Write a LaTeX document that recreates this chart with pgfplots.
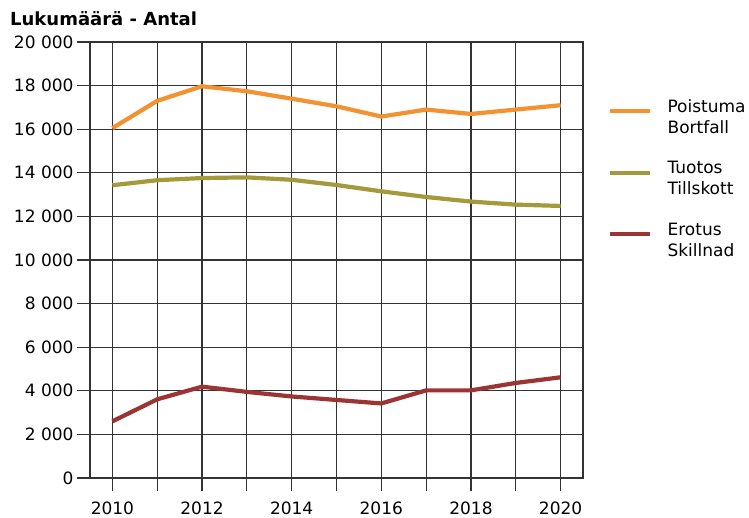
\documentclass[border=0pt]{standalone}
\usepackage{pgfplots}
\pgfplotsset{compat=1.18}
\usepackage{fontspec}
\setmainfont{DejaVu Sans}
\definecolor{cOr}{HTML}{F39230}
\definecolor{cOl}{HTML}{A49A3C}
\definecolor{cRe}{HTML}{9D3434}
\begin{document}
\begin{tikzpicture}[x=1pt,y=1pt]
\useasboundingbox (0,0) rectangle (749,517);
\node[anchor=base west, inner sep=0pt, font=\fontsize{18}{22}\selectfont\bfseries] at (10,491.3) {Lukumäärä - Antal};
\begin{axis}[
  at={(90pt,39pt)}, anchor=south west,
  scale only axis, width=493pt, height=436pt,
  xmin=2009.5, xmax=2020.5, ymin=0, ymax=20000,
  xtick={2010,2012,...,2020}, minor xtick={2011,2013,...,2019},
  ytick={0,2000,...,20000},
  grid=both,
  major grid style={black!80, line width=1.1pt},
  minor grid style={black!80, line width=1.1pt},
  axis line style={black!80, line width=1.1pt},
  tick style={black!80, line width=1.1pt},
  tick align=outside, xtick pos=bottom, ytick pos=left,
  major tick length=13pt, minor tick length=13pt,
  tick label style={font=\fontsize{17}{20}\selectfont},
  /pgf/number format/assume math mode=true,
  /pgf/number format/1000 sep={\ },
  xticklabel style={/pgf/number format/1000 sep={}, yshift=-7pt},
  scaled y ticks=false,
  legend style={at={(1.045,0.8735)}, anchor=north west, draw=none, fill=none,
    font=\fontsize{17}{21}\selectfont, row sep=26.5pt, column sep=15pt,
    nodes={align=left, inner sep=0pt}},
  legend cell align=left,
  legend image code/.code={\draw[#1] (0pt,6pt) -- (40pt,6pt);},
]
\addplot[cOr, line width=4.2pt] coordinates {(2010,16050)(2011,17300)(2012,17970)(2013,17740)(2014,17400)(2015,17050)(2016,16580)(2017,16900)(2018,16700)(2019,16900)(2020,17100)};
\addlegendentry{Poistuma\\Bortfall}
\addplot[cOl, line width=4.2pt] coordinates {(2010,13430)(2011,13660)(2012,13760)(2013,13790)(2014,13680)(2015,13440)(2016,13150)(2017,12890)(2018,12680)(2019,12540)(2020,12480)};
\addlegendentry{Tuotos\\Tillskott}
\addplot[cRe, line width=4.2pt] coordinates {(2010,2600)(2011,3610)(2012,4190)(2013,3950)(2014,3740)(2015,3580)(2016,3420)(2017,4020)(2018,4020)(2019,4360)(2020,4620)};
\addlegendentry{Erotus\\Skillnad}
\end{axis}
\end{tikzpicture}
\end{document}
